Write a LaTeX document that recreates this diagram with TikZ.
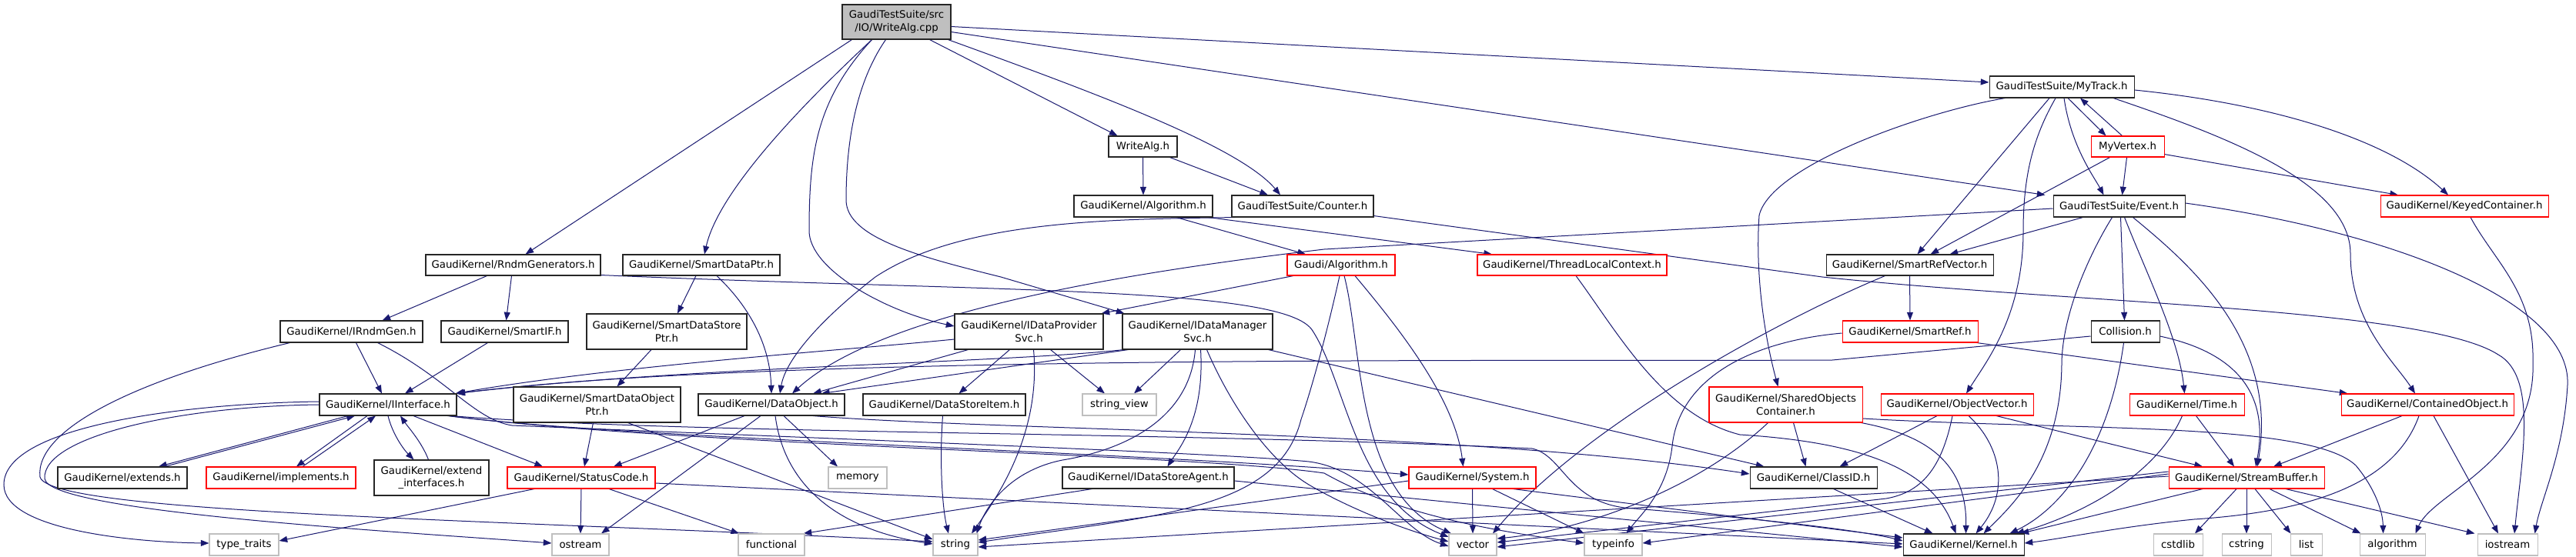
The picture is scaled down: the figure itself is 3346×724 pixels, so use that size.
\documentclass[tikz,border=0pt]{standalone}
\usepackage{fontspec}
\newfontfamily\dvsans{DejaVu Sans}
\usetikzlibrary{arrows.meta}
\definecolor{edgec}{HTML}{191970}
\definecolor{grayc}{HTML}{BFBFBF}
\definecolor{redc}{HTML}{FF0000}
\pgfdeclarelayer{bg}
\pgfsetlayers{bg,main}
\newcommand\mkbox[7]{\node[#6, minimum width={(#4-#2)*0.75pt}, minimum height={(#5-#3)*0.75pt}] (#1) at ({(#2+#4)/2},{(#3+#5)/2}) {#7};}
\begin{document}
\begin{tikzpicture}[x=0.75pt,y=-0.75pt,
  nb/.style={draw=black!85, fill=white, line width=0.8pt, inner sep=0pt, align=center, font={\dvsans\fontsize{10}{12.5}\selectfont}},
  nr/.style={nb, draw=redc},
  ng/.style={nb, draw=grayc},
  nroot/.style={nb, fill=grayc},
  ed/.style={draw=edgec, line width=0.75pt, -{Triangle[length=8pt,width=6pt]}}]
\useasboundingbox (0,0) rectangle (3346,724);
\begin{pgfonlayer}{bg}
\fill[white] (0,0) rectangle (3346,724);
\end{pgfonlayer}
% nodes
\mkbox{cpp}{1094}{6}{1235}{51}{nroot}{GaudiTestSuite/src\\/IO/WriteAlg.cpp}
\mkbox{mytrack}{2584}{99}{2772}{127}{nb}{GaudiTestSuite/MyTrack.h}
\mkbox{writealgh}{1440}{177}{1529}{204}{nb}{WriteAlg.h}
\mkbox{myvertex}{2716}{177}{2811}{204}{nr}{MyVertex.h}
\mkbox{gkalg}{1395}{254}{1575}{282}{nb}{GaudiKernel/Algorithm.h}
\mkbox{counter}{1600}{254}{1784}{282}{nb}{GaudiTestSuite/Counter.h}
\mkbox{event}{2667}{254}{2838}{282}{nb}{GaudiTestSuite/Event.h}
\mkbox{keyed}{3092}{254}{3310}{282}{nr}{GaudiKernel/KeyedContainer.h}
\mkbox{rndm}{553}{331}{780}{358}{nb}{GaudiKernel/RndmGenerators.h}
\mkbox{sdptr}{809}{331}{1013}{358}{nb}{GaudiKernel/SmartDataPtr.h}
\mkbox{galg}{1672}{331}{1812}{358}{nr}{Gaudi/Algorithm.h}
\mkbox{tlc}{1919}{331}{2165}{358}{nr}{GaudiKernel/ThreadLocalContext.h}
\mkbox{srefvec}{2372}{331}{2589}{358}{nb}{GaudiKernel/SmartRefVector.h}
\mkbox{irndm}{364}{417}{549}{445}{nb}{GaudiKernel/IRndmGen.h}
\mkbox{smartif}{573}{417}{738}{445}{nb}{GaudiKernel/SmartIF.h}
\mkbox{sdsptr}{762}{408}{970}{454}{nb}{GaudiKernel/SmartDataStore\\Ptr.h}
\mkbox{idps}{1240}{408}{1433}{454}{nb}{GaudiKernel/IDataProvider\\Svc.h}
\mkbox{idms}{1458}{408}{1653}{454}{nb}{GaudiKernel/IDataManager\\Svc.h}
\mkbox{sref}{2393}{417}{2569}{445}{nr}{GaudiKernel/SmartRef.h}
\mkbox{collision}{2716}{417}{2805}{445}{nb}{Collision.h}
\mkbox{iinterface}{415}{512}{593}{540}{nb}{GaudiKernel/IInterface.h}
\mkbox{sdoptr}{667}{503}{884}{549}{nb}{GaudiKernel/SmartDataObject\\Ptr.h}
\mkbox{dataobj}{907}{512}{1097}{540}{nb}{GaudiKernel/DataObject.h}
\mkbox{dsitem}{1121}{512}{1332}{540}{nb}{GaudiKernel/DataStoreItem.h}
\mkbox{strview}{1406}{512}{1502}{540}{ng}{string\_view}
\mkbox{shared}{2220}{503}{2419}{549}{nr}{GaudiKernel/SharedObjects\\Container.h}
\mkbox{objvec}{2443}{512}{2641}{540}{nr}{GaudiKernel/ObjectVector.h}
\mkbox{time}{2766}{512}{2915}{540}{nr}{GaudiKernel/Time.h}
\mkbox{contained}{3041}{512}{3265}{540}{nr}{GaudiKernel/ContainedObject.h}
\mkbox{extends}{75}{607}{243}{635}{nb}{GaudiKernel/extends.h}
\mkbox{implements}{268}{607}{462}{635}{nr}{GaudiKernel/implements.h}
\mkbox{extif}{486}{598}{635}{644}{nb}{GaudiKernel/extend\\\_interfaces.h}
\mkbox{statuscode}{659}{607}{851}{635}{nr}{GaudiKernel/StatusCode.h}
\mkbox{memory}{1076}{607}{1152}{635}{ng}{memory}
\mkbox{idsagent}{1380}{607}{1603}{635}{nb}{GaudiKernel/IDataStoreAgent.h}
\mkbox{system}{1830}{607}{1995}{635}{nr}{GaudiKernel/System.h}
\mkbox{classid}{2273}{607}{2438}{635}{nb}{GaudiKernel/ClassID.h}
\mkbox{streambuf}{2817}{607}{3019}{635}{nr}{GaudiKernel/StreamBuffer.h}
\mkbox{typetraits}{272}{694}{362}{722}{ng}{type\_traits}
\mkbox{ostream}{717}{694}{791}{722}{ng}{ostream}
\mkbox{functional}{959}{694}{1045}{722}{ng}{functional}
\mkbox{string}{1212}{694}{1270}{722}{ng}{string}
\mkbox{vector}{1882}{694}{1944}{722}{ng}{vector}
\mkbox{typeinfo}{2058}{694}{2133}{722}{ng}{typeinfo}
\mkbox{kernel}{2472}{694}{2629}{722}{nb}{GaudiKernel/Kernel.h}
\mkbox{cstdlib}{2797}{694}{2861}{722}{ng}{cstdlib}
\mkbox{cstring}{2886}{694}{2950}{722}{ng}{cstring}
\mkbox{list}{2975}{694}{3016}{722}{ng}{list}
\mkbox{algorithm}{3065}{694}{3150}{722}{ng}{algorithm}
\mkbox{iostream}{3218}{694}{3296}{722}{ng}{iostream}
\begin{pgfonlayer}{bg}
% WriteAlg.cpp
\draw[ed] ([shift={(-58,0)}]cpp.south) -- ([shift={(16,0)}]rndm.north);
\draw[ed] ([shift={(-32,0)}]cpp.south) .. controls (1070,110) and (935,240) .. ([shift={(4,0)}]sdptr.north);
\draw[ed] ([shift={(-32,0)}]cpp.south) .. controls (1060,130) and (1051,200) .. (1051,300) .. controls (1051,350) and (1150,405) .. ([shift={(0,-7)}]idps.west);
\draw[ed] ([shift={(-14,0)}]cpp.south) .. controls (1110,110) and (1099,190) .. (1099,260) .. controls (1099,310) and (1200,335) .. (1300,360) -- ([shift={(-95,0)}]idms.north);
\draw[ed] ([shift={(43,0)}]cpp.south) -- ([shift={(-33,0)}]writealgh.north);
\draw[ed] ([shift={(67,0)}]cpp.south) .. controls (1420,120) and (1610,190) .. ([shift={(-29,0)}]counter.north);
\draw[ed] ([shift={(0,6)}]cpp.east) -- ([shift={(0,-6)}]mytrack.west);
\draw[ed] ([shift={(0,13)}]cpp.east) -- ([shift={(-96,0)}]event.north);
% WriteAlg.h, Algorithm, Counter
\draw[ed] (writealgh.south) -- (gkalg.north);
\draw[ed] ([shift={(35,0)}]writealgh.south) -- ([shift={(-45,0)}]counter.north);
\draw[ed] ([shift={(43,0)}]gkalg.south) -- ([shift={(-46,0)}]galg.north);
\draw[ed] ([shift={(-6,0)}]gkalg.south east) -- ([shift={(-104,0)}]tlc.north);
\draw[ed] ([shift={(5,0)}]counter.south west) .. controls (1450,285) and (1250,285) .. (1137,360) .. controls (1060,420) and (1020,470) .. ([shift={(11,0)}]dataobj.north);
\draw[ed] ([shift={(0,-2)}]counter.south east) -- (2367,360) .. controls (2700,395) and (3150,400) .. (3245,461) .. controls (3297,490) and (3275,600) .. ([shift={(9,0)}]iostream.north);
% RndmGenerators, SmartDataPtr
\draw[ed] ([shift={(-34,0)}]rndm.south) -- ([shift={(40,0)}]irndm.north);
\draw[ed] ([shift={(-2,0)}]rndm.south) -- ([shift={(2,0)}]smartif.north);
\draw[ed] ([shift={(0,-1)}]rndm.south east) .. controls (1300,380) and (1670,372) .. (1705,430) .. controls (1750,500) and (1760,650) .. ([shift={(0,-10)}]vector.west);
\draw[ed] ([shift={(-7,0)}]sdptr.south) -- ([shift={(14,0)}]sdsptr.north);
\draw[ed] ([shift={(20,0)}]sdptr.south) .. controls (975,400) and (1000,450) .. (dataobj.north);
\draw[ed] ([shift={(-20,0)}]sdsptr.south) -- ([shift={(26,0)}]sdoptr.north);
\draw[ed] ([shift={(-5,0)}]sdoptr.south) -- ([shift={(4,0)}]statuscode.north);
\draw[ed] ([shift={(40,0)}]sdoptr.south) -- ([shift={(0,-7)}]string.west);
% Gaudi/Algorithm, ThreadLocalContext
\draw[ed] ([shift={(-62,0)}]galg.south) -- ([shift={(-3,0)}]idps.north east);
\draw[ed] ([shift={(18,0)}]galg.south) .. controls (1820,430) and (1890,520) .. ([shift={(-12,0)}]system.north);
\draw[ed] ([shift={(4,0)}]galg.south) .. controls (1770,450) and (1760,640) .. ([shift={(-28,0)}]vector.north);
\draw[ed] ([shift={(-2,0)}]galg.south) .. controls (1722,440) and (1702,510) .. (1690,545) .. controls (1660,665) and (1500,670) .. ([shift={(0,-3)}]string.east);
\draw[ed] ([shift={(5,0)}]tlc.south) .. controls (2100,430) and (2160,540) .. (2260,565) .. controls (2420,575) and (2510,610) .. ([shift={(-10,0)}]kernel.north);
% IRndmGen, SmartIF
\draw[ed] ([shift={(6,0)}]irndm.south) -- ([shift={(-8,0)}]iinterface.north);
\draw[ed] ([shift={(-80,0)}]irndm.south) .. controls (170,495) and (45,560) .. (52,620) .. controls (65,668) and (650,675) .. ([shift={(0,-4)}]string.west);
\draw[ed] ([shift={(34,0)}]irndm.south) .. controls (580,490) and (615,545) .. (665,553) .. controls (1200,575) and (1600,590) .. (1700,600) .. controls (1780,610) and (1820,690) .. ([shift={(0,2)}]vector.west);
\draw[ed] ([shift={(-22,0)}]smartif.south) -- ([shift={(22,0)}]iinterface.north);
% IDataProviderSvc
\draw[ed] ([shift={(0,10)}]idps.west) .. controls (1100,455) and (800,475) .. ([shift={(-2,0)}]iinterface.north east);
\draw[ed] ([shift={(-79,0)}]idps.south) -- ([shift={(54,0)}]dataobj.north);
\draw[ed] ([shift={(-25,0)}]idps.south) -- ([shift={(19,0)}]dsitem.north);
\draw[ed] ([shift={(6,0)}]idps.south) .. controls (1352,560) and (1300,640) .. ([shift={(21,0)}]string.north);
\draw[ed] ([shift={(28,0)}]idps.south) -- ([shift={(-19,0)}]strview.north);
% IDataManagerSvc
\draw[ed] ([shift={(2,0)}]idms.south west) .. controls (1300,472) and (900,476) .. ([shift={(-1,0)}]iinterface.north east);
\draw[ed] ([shift={(8,0)}]idms.south west) -- ([shift={(65,0)}]dataobj.north);
\draw[ed] ([shift={(-22,0)}]idms.south) -- ([shift={(19,0)}]strview.north);
\draw[ed] ([shift={(-3,0)}]idms.south) .. controls (1545,545) and (1460,585) .. (1380,598) .. controls (1310,612) and (1280,660) .. ([shift={(-2,0)}]string.north east);
\draw[ed] ([shift={(4,0)}]idms.south) .. controls (1565,545) and (1530,585) .. ([shift={(25,0)}]idsagent.north);
\draw[ed] ([shift={(12,0)}]idms.south) .. controls (1600,530) and (1650,600) .. (1700,630) .. controls (1760,665) and (1830,690) .. ([shift={(0,-4)}]vector.west);
\draw[ed] ([shift={(-6,0)}]idms.south east) -- ([shift={(-64,0)}]classid.north);
% IInterface
\draw[ed] ([shift={(-52,0)}]iinterface.south) -- ([shift={(47,0)}]extends.north);
\draw[ed] ([shift={(55,0)}]extends.north) -- ([shift={(-43,0)}]iinterface.south);
\draw[ed] ([shift={(-27,0)}]iinterface.south) -- ([shift={(20,0)}]implements.north);
\draw[ed] ([shift={(28,0)}]implements.north) -- ([shift={(-16,0)}]iinterface.south);
\draw[ed] (iinterface.south) .. controls (510,565) and (525,585) .. ([shift={(-23,0)}]extif.north);
\draw[ed] ([shift={(-4,0)}]extif.north) .. controls (548,575) and (530,555) .. ([shift={(16,0)}]iinterface.south);
\draw[ed] ([shift={(33,0)}]iinterface.south) -- ([shift={(-50,0)}]statuscode.north);
\draw[ed] ([shift={(0,-4)}]iinterface.west) .. controls (250,524) and (5,552) .. (5,630) .. controls (5,690) and (180,705) .. ([shift={(0,-2)}]typetraits.west);
\draw[ed] (iinterface.west) .. controls (230,528) and (55,568) .. (58,622) .. controls (62,665) and (500,690) .. ([shift={(0,-2)}]ostream.west);
\draw[ed] ([shift={(-10,0)}]iinterface.south east) .. controls (800,570) and (1500,588) .. ([shift={(0,-4)}]system.west);
\draw[ed] ([shift={(-8,0)}]iinterface.south east) .. controls (900,565) and (1500,560) .. (1990,583) .. controls (2030,592) and (2035,650) .. (2110,660) .. controls (2300,675) and (2420,690) .. ([shift={(0,-5)}]kernel.west);
\draw[ed] ([shift={(-12,0)}]iinterface.south east) .. controls (900,580) and (1550,590) .. (1720,615) .. controls (1800,660) and (1900,685) .. ([shift={(0,-2)}]typeinfo.west);
% DataObject, DataStoreItem
\draw[ed] ([shift={(-35,0)}]dataobj.south) -- ([shift={(42,0)}]statuscode.north);
\draw[ed] ([shift={(-14,0)}]dataobj.south) -- ([shift={(27,0)}]ostream.north);
\draw[ed] ([shift={(5,0)}]dataobj.south) .. controls (1020,640) and (1100,690) .. ([shift={(0,-1)}]string.west);
\draw[ed] ([shift={(16,0)}]dataobj.south) -- ([shift={(-26,0)}]memory.north);
\draw[ed] ([shift={(54,0)}]dataobj.south) .. controls (1300,560) and (1900,560) .. ([shift={(0,-5)}]classid.west);
\draw[ed] ([shift={(-2,0)}]dsitem.south) .. controls (1220,600) and (1224,660) .. ([shift={(-9,0)}]string.north);
% StatusCode, IDataStoreAgent, System, ClassID
\draw[ed] ([shift={(-61,0)}]statuscode.south) -- ([shift={(0,-5)}]typetraits.east);
\draw[ed] (statuscode.south) -- (ostream.north);
\draw[ed] ([shift={(36,0)}]statuscode.south) -- ([shift={(-42,0)}]functional.north);
\draw[ed] ([shift={(0,7)}]statuscode.east) -- ([shift={(0,-1)}]kernel.west);
\draw[ed] ([shift={(-73,0)}]idsagent.south) -- ([shift={(-2,0)}]functional.north east);
\draw[ed] ([shift={(0,4)}]idsagent.east) -- ([shift={(0,3)}]kernel.west);
\draw[ed] (system.south) -- (vector.north);
\draw[ed] ([shift={(26,0)}]system.south) -- ([shift={(-38,0)}]typeinfo.north);
\draw[ed] ([shift={(53,0)}]system.south) -- ([shift={(0,-9)}]kernel.west);
\draw[ed] ([shift={(0,4)}]system.west) -- ([shift={(0,-6)}]string.east);
\draw[ed] ([shift={(26,0)}]classid.south) -- ([shift={(-40,0)}]kernel.north);
% MyTrack, MyVertex
\draw[ed] ([shift={(8,0)}]mytrack.south) -- ([shift={(-28,0)}]myvertex.north);
\draw[ed] ([shift={(-7,0)}]myvertex.north) -- ([shift={(24,0)}]mytrack.south);
\draw[ed] ([shift={(3,0)}]mytrack.south) .. controls (2690,190) and (2720,230) .. ([shift={(-20,0)}]event.north);
\draw[ed] ([shift={(-1,0)}]myvertex.south) -- ([shift={(4,0)}]event.north);
\draw[ed] ([shift={(-23,0)}]myvertex.south) -- ([shift={(27,0)}]srefvec.north);
\draw[ed] ([shift={(0,-4)}]myvertex.south east) -- ([shift={(-86,0)}]keyed.north);
\draw[ed] ([shift={(-16,0)}]mytrack.south) -- ([shift={(10,0)}]srefvec.north);
\draw[ed] ([shift={(-8,0)}]mytrack.south) .. controls (2640,180) and (2628,230) .. (2628,300) .. controls (2628,410) and (2580,470) .. ([shift={(12,0)}]objvec.north);
\draw[ed] ([shift={(21,0)}]mytrack.south west) .. controls (2500,145) and (2300,215) .. (2285,280) .. controls (2280,350) and (2290,430) .. ([shift={(-10,0)}]shared.north);
\draw[ed] ([shift={(0,4)}]mytrack.east) .. controls (2950,135) and (3100,180) .. ([shift={(-21,0)}]keyed.north);
\draw[ed] ([shift={(67,0)}]mytrack.south) .. controls (2900,180) and (3053,240) .. (3053,330) .. controls (3053,420) and (3110,470) .. ([shift={(-16,0)}]contained.north);
% Event
\draw[ed] ([shift={(0,3)}]event.west) -- (1720,324) .. controls (1500,350) and (1150,400) .. ([shift={(27,0)}]dataobj.north);
\draw[ed] ([shift={(-47,0)}]event.south) -- ([shift={(52,0)}]srefvec.north);
\draw[ed] ([shift={(-9,0)}]event.south) .. controls (2720,320) and (2680,400) .. (2678,470) .. controls (2678,600) and (2610,660) .. ([shift={(26,0)}]kernel.north);
\draw[ed] ([shift={(2,0)}]event.south) -- ([shift={(-1,0)}]collision.north);
\draw[ed] ([shift={(7,0)}]event.south) .. controls (2790,360) and (2830,440) .. ([shift={(-3,0)}]time.north);
\draw[ed] ([shift={(18,0)}]event.south) .. controls (2840,340) and (2960,440) .. ([shift={(14,0)}]streambuf.north);
\draw[ed] ([shift={(0,-4)}]event.east) .. controls (3100,300) and (3340,390) .. (3335,500) .. controls (3330,590) and (3300,650) .. ([shift={(-4,0)}]iostream.north east);
\draw[ed] ([shift={(8,0)}]keyed.south) .. controls (3240,340) and (3292,380) .. (3290,470) .. controls (3295,600) and (3160,640) .. ([shift={(30,0)}]algorithm.north);
% SmartRefVector, SmartRef, Collision
\draw[ed] (srefvec.south) -- (sref.north);
\draw[ed] ([shift={(-32,0)}]srefvec.south) .. controls (2300,420) and (2050,560) .. ([shift={(26,0)}]vector.north);
\draw[ed] ([shift={(0,2)}]sref.west) .. controls (2260,445) and (2180,500) .. (2172,580) .. controls (2165,640) and (2130,670) .. ([shift={(17,0)}]typeinfo.north);
\draw[ed] ([shift={(-2,0)}]sref.south east) -- ([shift={(9,0)}]contained.north west);
\draw[ed] ([shift={(0,6)}]collision.west) -- (2380,468) .. controls (2000,470) and (1000,460) .. (iinterface.north east);
\draw[ed] ([shift={(-2,0)}]collision.south) .. controls (2740,580) and (2680,660) .. ([shift={(60,0)}]kernel.north);
\draw[ed] ([shift={(0,6)}]collision.east) .. controls (2890,455) and (2950,500) .. ([shift={(12,0)}]streambuf.north);
% SharedObjectsContainer, ObjectVector, Time, ContainedObject
\draw[ed] ([shift={(10,0)}]shared.south) -- ([shift={(-10,0)}]classid.north);
\draw[ed] ([shift={(-23,0)}]shared.south) .. controls (2200,640) and (2050,690) .. ([shift={(0,-8)}]vector.east);
\draw[ed] ([shift={(-2,0)}]shared.south east) .. controls (2500,565) and (2555,600) .. ([shift={(3,0)}]kernel.north);
\draw[ed] ([shift={(0,18)}]shared.east) .. controls (2700,560) and (3000,548) .. (3060,605) .. controls (3085,635) and (3095,665) .. ([shift={(-12,0)}]algorithm.north);
\draw[ed] ([shift={(-26,0)}]objvec.south) -- ([shift={(34,0)}]classid.north);
\draw[ed] ([shift={(-6,0)}]objvec.south) .. controls (2522,610) and (2495,640) .. (2450,648) -- ([shift={(0,-3)}]vector.east);
\draw[ed] ([shift={(15,0)}]objvec.south) .. controls (2600,580) and (2610,640) .. ([shift={(16,0)}]kernel.north);
\draw[ed] ([shift={(51,0)}]objvec.south) -- ([shift={(-57,0)}]streambuf.north);
\draw[ed] ([shift={(-6,0)}]time.south) .. controls (2800,620) and (2700,670) .. ([shift={(68,0)}]kernel.north);
\draw[ed] ([shift={(12,0)}]time.south) -- ([shift={(-16,0)}]streambuf.north);
\draw[ed] ([shift={(-33,0)}]contained.south) -- ([shift={(35,0)}]streambuf.north);
\draw[ed] ([shift={(-11,0)}]contained.south) .. controls (3110,630) and (3000,665) .. (2850,675) .. controls (2750,685) and (2680,700) .. ([shift={(0,-2)}]kernel.east);
\draw[ed] ([shift={(8,0)}]contained.south) -- ([shift={(-12,0)}]iostream.north);
% StreamBuffer
\draw[ed] ([shift={(-57,0)}]streambuf.south) -- ([shift={(-5,0)}]kernel.north east);
\draw[ed] ([shift={(-13,0)}]streambuf.south) -- ([shift={(22,0)}]cstdlib.north);
\draw[ed] (streambuf.south) -- (cstring.north);
\draw[ed] ([shift={(11,0)}]streambuf.south) -- ([shift={(-20,0)}]list.north);
\draw[ed] ([shift={(30,0)}]streambuf.south) -- ([shift={(-41,0)}]algorithm.north);
\draw[ed] ([shift={(51,0)}]streambuf.south) -- ([shift={(-3,0)}]iostream.north west);
\draw[ed] ([shift={(0,-8)}]streambuf.west) -- ([shift={(0,3)}]vector.east);
\draw[ed] ([shift={(0,-5)}]streambuf.west) -- ([shift={(0,-2)}]typeinfo.east);
\draw[ed] ([shift={(0,-2)}]streambuf.west) -- ([shift={(0,3)}]string.east);
\end{pgfonlayer}
\end{tikzpicture}
\end{document}
